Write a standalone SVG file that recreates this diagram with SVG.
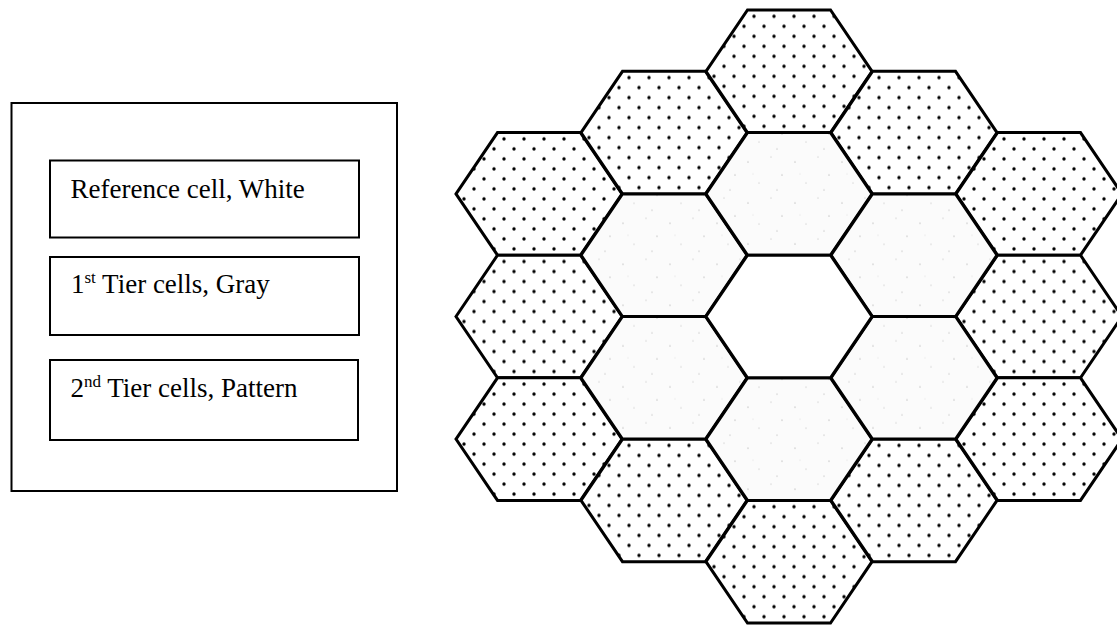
<svg xmlns="http://www.w3.org/2000/svg" xmlns:xlink="http://www.w3.org/1999/xlink" width="1117" height="626" viewBox="0 0 1117 626">
<style>
.box{fill:#fff;stroke:#000;stroke-width:2}
.lbl{font-family:"Liberation Serif","Times New Roman",serif;font-size:27px;fill:#000}
.sup{font-size:17px}
.cell{stroke:#000;stroke-width:3;stroke-linejoin:miter}
.white{fill:#fff}
.gray{fill:url(#speckle)}
.pat{fill:url(#dots)}
</style>
<defs>
<pattern id="dots" patternUnits="userSpaceOnUse" width="20" height="20">
<rect width="20" height="20" fill="#fff"/>
<circle cx="5" cy="5" r="1.7" fill="#000"/>
<circle cx="15" cy="15" r="1.7" fill="#000"/>
</pattern>
<pattern id="speckle" patternUnits="userSpaceOnUse" width="47" height="41">
<rect width="47" height="41" fill="#fbfbfb"/>
<circle cx="6" cy="9" r="0.6" fill="#999"/>
<circle cx="29" cy="4" r="0.5" fill="#aaa"/>
<circle cx="40" cy="22" r="0.6" fill="#999"/>
<circle cx="17" cy="30" r="0.5" fill="#aaa"/>
<circle cx="35" cy="37" r="0.5" fill="#999"/>
<circle cx="11" cy="21" r="0.4" fill="#bbb"/>
</pattern>
<polygon id="hex" points="-83,0 -41.5,-61.3 41.5,-61.3 83,0 41.5,61.3 -41.5,61.3"/>
</defs>
<rect width="1117" height="626" fill="#fff"/>
<g id="legend">
<rect class="box" x="11.5" y="103" width="385.5" height="388"/>
<g id="legend-white">
<rect class="box" x="50" y="160.5" width="309" height="77"/>
<text class="lbl" x="70.5" y="198">Reference cell, White</text>
</g>
<g id="legend-gray">
<rect class="box" x="50" y="257" width="309" height="78"/>
<text class="lbl" x="71" y="293">1<tspan class="sup" dy="-10">st</tspan><tspan dy="10"> Tier cells, Gray</tspan></text>
</g>
<g id="legend-pattern">
<rect class="box" x="50" y="360" width="308" height="80"/>
<text class="lbl" x="70.5" y="396.5">2<tspan class="sup" dy="-10">nd</tspan><tspan dy="10"> Tier cells, Pattern</tspan></text>
</g>
</g>
<g id="cells">
<g id="tier2">
<g id="c-2a"><use href="#hex" class="cell pat" x="539" y="193.9"/></g>
<g id="c-2b"><use href="#hex" class="cell pat" x="539" y="316.5"/></g>
<g id="c-2c"><use href="#hex" class="cell pat" x="539" y="439.1"/></g>
<g id="c-1a"><use href="#hex" class="cell pat" x="664" y="132.6"/></g>
<g id="c-1d"><use href="#hex" class="cell pat" x="664" y="500.4"/></g>
<g id="c0a"><use href="#hex" class="cell pat" x="789" y="71.3"/></g>
<g id="c0e"><use href="#hex" class="cell pat" x="789" y="561.7"/></g>
<g id="c1a"><use href="#hex" class="cell pat" x="914" y="132.6"/></g>
<g id="c1d"><use href="#hex" class="cell pat" x="914" y="500.4"/></g>
<g id="c2a"><use href="#hex" class="cell pat" x="1039" y="193.9"/></g>
<g id="c2b"><use href="#hex" class="cell pat" x="1039" y="316.5"/></g>
<g id="c2c"><use href="#hex" class="cell pat" x="1039" y="439.1"/></g>
</g>
<g id="tier1">
<g id="c-1b"><use href="#hex" class="cell gray" x="664" y="255.2"/></g>
<g id="c-1c"><use href="#hex" class="cell gray" x="664" y="377.8"/></g>
<g id="c0b"><use href="#hex" class="cell gray" x="789" y="193.9"/></g>
<g id="c0d"><use href="#hex" class="cell gray" x="789" y="439.1"/></g>
<g id="c1b"><use href="#hex" class="cell gray" x="914" y="255.2"/></g>
<g id="c1c"><use href="#hex" class="cell gray" x="914" y="377.8"/></g>
</g>
<g id="reference">
<g id="c0c"><use href="#hex" class="cell white" x="789" y="316.5"/></g>
</g>
</g>
<g id="connectors"/>
</svg>
